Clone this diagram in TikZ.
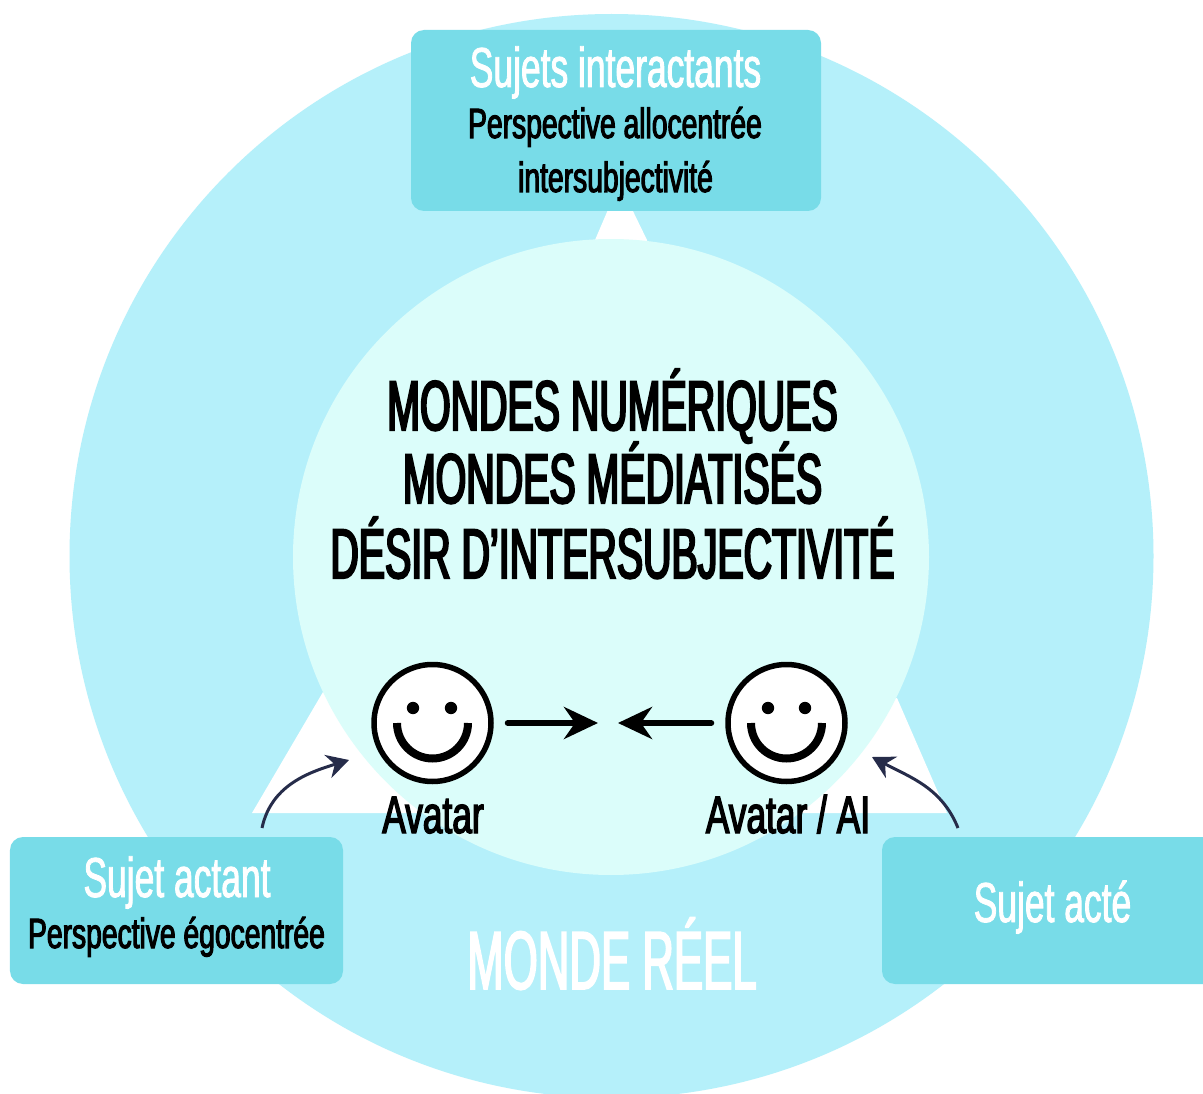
\documentclass[tikz,border=0pt]{standalone}
\usepackage{fontspec}
\setmainfont[FakeStretch=0.53,FakeBold=2]{Liberation Sans}
\newfontfamily\mondefont[FakeStretch=0.56,FakeBold=3]{Liberation Sans}
\newfontfamily\sujetfont[FakeStretch=0.63,FakeBold=1.5]{Liberation Sans}
\newfontfamily\noirfont[FakeStretch=0.67,FakeBold=2.5]{Liberation Sans}
\usetikzlibrary{arrows.meta}
\definecolor{mondereel}{HTML}{B5F0FA}
\definecolor{mondenum}{HTML}{DBFDFA}
\definecolor{sujetbox}{HTML}{78DCE8}
\definecolor{courbe}{HTML}{262C4A}
\tikzset{
	sujet/.style={fill=sujetbox,rounded corners=0.13cm,inner sep=0,minimum height=1.47cm},
	titre/.style={text=white,anchor=base,font=\sujetfont\fontsize{16}{19}\selectfont,inner sep=0},
	soustitre/.style={text=black,anchor=base,font=\noirfont\fontsize{12}{14}\selectfont,inner sep=0},
	etiquette/.style={text=black,anchor=base,font=\noirfont\fontsize{15}{18}\selectfont,inner sep=0},
	monde/.style={text=black,anchor=base,font=\mondefont\fontsize{20}{24}\selectfont,inner sep=0},
	avatar/.style={circle,draw=black,line width=0.055cm,fill=white,minimum size=1.17cm,inner sep=0},
	fleche/.style={-{Stealth[length=0.34cm,width=0.32cm]},line width=0.06cm,line cap=round},
	courbee/.style={-{Stealth[length=0.22cm,width=0.24cm]},draw=courbe,line width=0.03cm},
}
\begin{document}
\begin{tikzpicture}[>=latex]
		%\draw [help lines] (0,0) grid (12,11);
		\clip (0,0) rectangle (12.03,10.93);
		\fill [white] (0,0) rectangle (12.03,10.93);
		% Monde reel
		\fill [mondereel] (6.115,5.37) circle (5.42);
		
		% Triangle
		\fill [white] (2.52,2.80) -- (3.23,4.01) -- (5,4.01) -- (5,2.80) -- cycle;
		\fill [white] (9.47,2.80) -- (8.97,3.95) -- (7,3.95) -- (7,2.80) -- cycle;
		\fill [white] (5.95,8.53) -- (6.10,8.88) -- (6.30,8.88) -- (6.47,8.53) -- (6.47,8.2) -- (5.95,8.2) -- cycle;
		
		% Mondes numeriques
		\fill [mondenum] (6.11,5.36) circle (3.18);
		\node [monde] (numeriques) at (6.125,6.63) {MONDES NUMÉRIQUES};
		\node [monde] (mediatises) at (6.125,5.90) {MONDES MÉDIATISÉS};
		\node [monde] (desir) at (6.125,5.15) {DÉSIR D’INTERSUBJECTIVITÉ};
		
		% Sujets
		\node [sujet,minimum width=4.10cm,minimum height=1.81cm] (interactants) at (6.16,9.725) {};
		\node [titre] (interactantsT) at (6.155,10.06) {Sujets interactants};
		\node [soustitre] (allocentree) at (6.15,9.55) {Perspective allocentrée};
		\node [soustitre] (intersubj) at (6.155,9.01) {intersubjectivité};
		
		\node [sujet,minimum width=3.33cm] (actant) at (1.765,1.825) {};
		\node [titre] (actantT) at (1.77,1.96) {Sujet actant};
		\node [soustitre] (egocentree) at (1.765,1.45) {Perspective égocentrée};
		
		\node [sujet,minimum width=3.60cm] (acte) at (10.62,1.825) {};
		\node [titre] (acteT) at (10.525,1.71) {Sujet acté};
		
		% Avatars
		\node [avatar] (avatarG) at (4.325,3.70) {};
		\fill (4.13,3.85) circle (0.062);
		\fill (4.51,3.85) circle (0.062);
		\draw [line width=0.08cm] (3.97,3.70) arc (180:360:0.355);
		\node [etiquette] (labelG) at (4.33,2.60) {Avatar};
		
		\node [avatar] (avatarD) at (7.865,3.70) {};
		\fill (7.68,3.85) circle (0.062);
		\fill (8.05,3.85) circle (0.062);
		\draw [line width=0.08cm] (7.51,3.70) arc (180:360:0.355);
		\node [etiquette] (labelD) at (7.88,2.60) {Avatar / AI};
		
		% Fleches
		\coordinate (milieuG) at (5.98,3.70);
		\coordinate (milieuD) at (6.18,3.70);
		\draw [fleche,shorten <=0.14cm] (avatarG) -- (milieuG);
		\draw [fleche,shorten <=0.14cm] (avatarD) -- (milieuD);
		
		\coordinate (departG) at (2.62,2.65);
		\coordinate (arriveeG) at (3.49,3.33);
		\coordinate (departD) at (9.58,2.65);
		\coordinate (arriveeD) at (8.72,3.36);
		\draw [courbee] (departG) to[out=78,in=197] (arriveeG);
		\draw [courbee] (departD) to[out=112,in=-28] (arriveeD);
		
		% Monde reel, titre
		\node [text=white,anchor=base,font=\fontsize{23.5}{28}\selectfont,inner sep=0] (reel) at (6.12,1.04) {MONDE RÉEL};
	\end{tikzpicture}
\end{document}
